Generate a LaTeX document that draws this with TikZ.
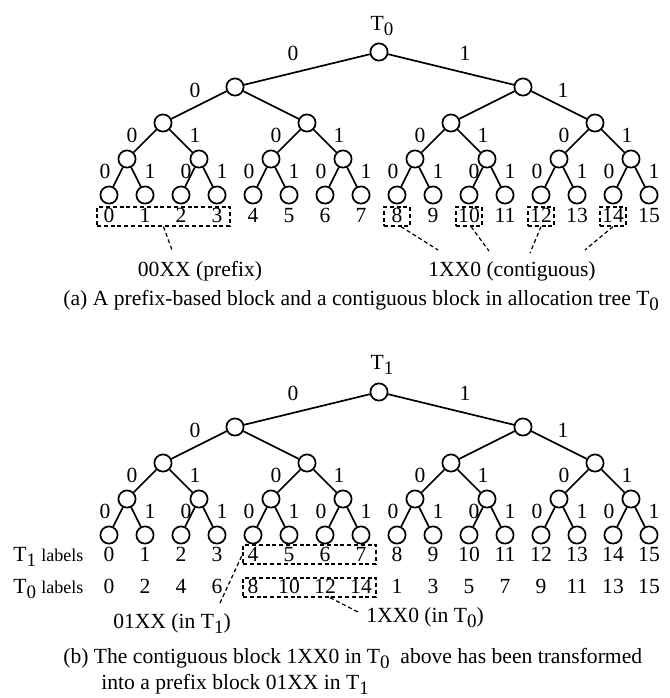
\documentclass[tikz,border=0pt]{standalone}
\usepackage{fontspec}
\setmainfont{Liberation Serif}
\newcommand\Tsb[1]{T\raisebox{-2.5pt}{\fontsize{9.5}{9.5}\selectfont #1}}
\begin{document}
\begin{tikzpicture}[x=0.5pt,y=-0.5pt,
  every node/.style={font=\fontsize{10.8}{13}\selectfont},
  vtx/.style={circle,draw,line width=0.85pt,minimum size=8.6pt,inner sep=0pt},
  edg/.style={line width=0.85pt},
  txt/.style={anchor=base,inner sep=0pt},
  blk/.style={draw,dash pattern=on 2pt off 1.4pt,line width=0.6pt,inner sep=0pt},
  lead/.style={dash pattern=on 2pt off 1.4pt,line width=0.6pt}]
\useasboundingbox (0,0) rectangle (670,698);

\foreach \p/\oy in {a/0,b/340}{
  \node[vtx] (\p-0-0) at (379,52+\oy) {};
  \node[txt] (\p-e0-0) at (293,60+\oy) {0};
  \node[txt] (\p-e0-1) at (465,60+\oy) {1};
  \node[txt] (\p-e1-0) at (195,97+\oy) {0};
  \node[txt] (\p-e1-1) at (563,97+\oy) {1};
  \foreach \i in {0,1}{
    \node[vtx] (\p-1-\i) at ({235+288*\i},{87+\oy}) {};
    \draw[edg] (\p-0-0) -- (\p-1-\i);
  }
  \foreach \i in {0,...,3}{
    \pgfmathtruncatemacro\pr{div(\i,2)}
    \node[vtx] (\p-2-\i) at ({163+144*\i},{123+\oy}) {};
    \draw[edg] (\p-1-\pr) -- (\p-2-\i);
    \node[txt] (\p-e2-\i-0) at ({163+144*\i-31},{142+\oy}) {0};
    \node[txt] (\p-e2-\i-1) at ({163+144*\i+32},{142+\oy}) {1};
  }
  \foreach \i in {0,...,7}{
    \pgfmathtruncatemacro\pr{div(\i,2)}
    \pgfmathsetmacro\lo{(\i==1 || \i==5) ? 13 : 22}
    \node[vtx] (\p-3-\i) at ({127+72*\i},{159+\oy}) {};
    \draw[edg] (\p-2-\pr) -- (\p-3-\i);
    \node[txt] (\p-e3-\i-0) at ({127+72*\i-\lo},{178+\oy}) {0};
    \node[txt] (\p-e3-\i-1) at ({127+72*\i+23},{178+\oy}) {1};
  }
  \foreach \i in {0,...,15}{
    \pgfmathtruncatemacro\pr{div(\i,2)}
    \node[vtx] (\p-4-\i) at ({109+36*\i},{195+\oy}) {};
    \draw[edg] (\p-3-\pr) -- (\p-4-\i);
  }
}

% ---- (a) ----
\node[txt] (ta) at (382,30) {\Tsb{0}};
\foreach \i in {0,...,15} \node[txt] (lab-a-\i) at ({109+36*\i},222) {\i};
\node[blk,minimum width=66.5pt,minimum height=9.5pt] (box03) at (163.5,216.5) {};
\foreach \k in {8,10,12,14}
  \node[blk,minimum width=13pt,minimum height=9.5pt] (box\k) at ({109+36*\k},216.5) {};
\node[txt] (pfx) at (200,276) {00XX (prefix)};
\node[txt] (ctg) at (512,276) {1XX0 (contiguous)};
\coordinate (pe) at (172,250);
\coordinate (ce8) at (438,250);
\coordinate (ce10) at (489,251);
\coordinate (ce12) at (530,253);
\coordinate (ce14) at (585,250);
\draw[lead] (box03.south) -- (pe);
\draw[lead] ([xshift=2pt]box8.south) -- (ce8);
\draw[lead] ([xshift=1pt]box10.south) -- (ce10);
\draw[lead] (box12.south) -- (ce12);
\draw[lead] (box14.south) -- (ce14);
\node[txt,anchor=base west] (capa) at (63,305) {(a) A prefix-based block and a contiguous block in allocation tree \Tsb{0}};

% ---- (b) ----
\node[txt] (tb) at (382,369) {\Tsb{1}};
\node[txt,anchor=base west] (rl1) at (13,561) {\Tsb{1} {\fontsize{9}{11}\selectfont labels}};
\node[txt,anchor=base west] (rl0) at (13,593) {\Tsb{0} {\fontsize{9}{11}\selectfont labels}};
\foreach \i in {0,...,15} \node[txt] (lab-b-\i) at ({109+36*\i},561) {\i};
\foreach \v [count=\c from 0] in {0,2,4,6,8,10,12,14,1,3,5,7,9,11,13,15}
  \node[txt] (lab-c-\c) at ({109+36*\c},593) {\v};
\node[blk,minimum width=66.5pt,minimum height=9.5pt] (boxt1) at (309.5,554.5) {};
\node[blk,minimum width=66.5pt,minimum height=9.5pt] (boxt0) at (309.5,587.5) {};
\node[txt] (in1) at (172,628) {01XX (in \Tsb{1})};
\node[txt] (in0) at (425,622) {1XX0 (in \Tsb{0})};
\coordinate (l1e) at (220,603);
\coordinate (l2e) at (358,612);
\draw[lead] (l1e) -- (boxt1.west);
\draw[lead] ([xshift=10.25pt]boxt0.south) -- (l2e);
\node[txt,anchor=base west] (capb1) at (63,663) {(b) The contiguous block 1XX0 in \Tsb{0}\ \ above has been transformed};
\node[txt,anchor=base west] (capb2) at (101,689) {into a prefix block 01XX in \Tsb{1}};
\end{tikzpicture}
\end{document}
